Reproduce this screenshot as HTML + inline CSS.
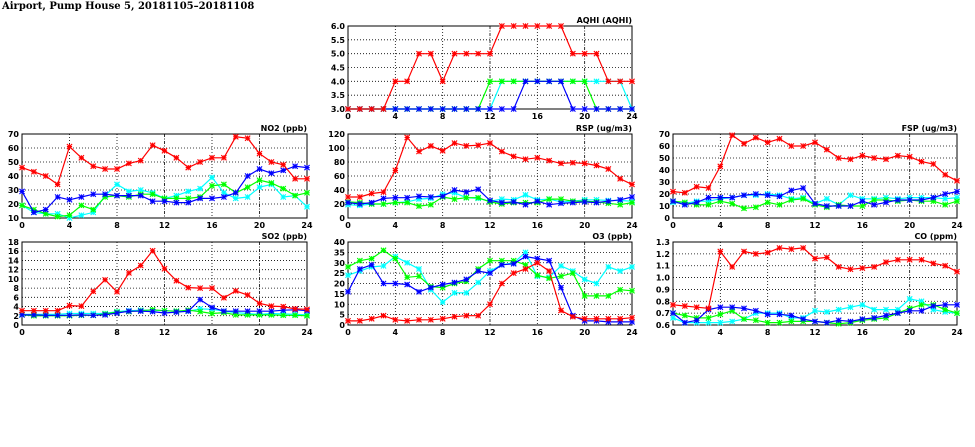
<!DOCTYPE html>
<html><head><meta charset="utf-8">
<style>
html,body{margin:0;padding:0;background:#fff;}
svg{display:block;font-family:"DejaVu Sans","Liberation Sans",sans-serif;}
</style></head>
<body>
<svg id="c" width="975" height="447" viewBox="0 0 975 447">
<text x="2" y="9" font-size="10" font-weight="bold" font-family="'DejaVu Serif','Liberation Serif',serif">Airport, Pump House 5, 20181105–20181108</text>
</svg>
<script>
const hours = [0,1,2,3,4,5,6,7,8,9,10,11,12,13,14,15,16,17,18,19,20,21,22,23,24];
const xTicks = [0,4,8,12,16,20,24];

const aqhiRed   = [3,3,3,3,4,4,5,5,4,5,5,5,5,6,6,6,6,6,6,5,5,5,4,4,4];
const aqhiGreen = [3,3,3,3,3,3,3,3,3,3,3,3,4,4,4,4,4,4,4,4,4,3,3,3,3];
const aqhiCyan  = [3,3,3,3,3,3,3,3,3,3,3,3,3,4,4,4,4,4,4,4,4,4,4,4,3];
const aqhiBlue  = [3,3,3,3,3,3,3,3,3,3,3,3,3,3,3,4,4,4,4,3,3,3,3,3,3];

const no2Red   = [46,43,40,34,61,53,47,45,45,49,51,62,58,53,46,50,53,53,68,67,56,50,48,38,38];
const no2Blue  = [29,14,16,25,23,25,27,27,26,26,26,22,22,21,21,24,24,25,28,40,45,42,44,47,46];
const no2Green = [19,16,13,11,12,19,16,25,26,25,27,27,24,24,24,25,33,34,28,32,37,35,31,26,28];
const no2Cyan  = [19,14,13,13,10,12,14,26,34,29,30,28,24,26,29,31,39,28,24,25,32,34,25,26,18];

const rspRed   = [30,30,35,37,68,115,95,103,96,107,103,104,107,95,88,84,86,82,78,79,78,75,70,56,48];
const rspBlue  = [22,20,22,28,29,29,31,30,31,40,37,41,25,22,23,19,24,19,21,22,23,22,24,26,30];
const rspGreen = [23,22,20,20,22,22,17,19,30,27,29,29,23,20,22,22,22,27,27,24,24,23,21,19,22];
const rspCyan  = [19,18,20,20,22,23,27,28,34,36,29,28,24,27,26,33,26,27,23,24,26,26,25,25,24];

const fspRed   = [22,21,26,25,43,69,62,67,63,66,60,60,63,57,50,49,52,50,49,52,51,47,45,36,31];
const fspBlue  = [14,11,13,17,17,17,19,20,19,18,23,25,12,10,10,10,14,11,13,15,15,15,17,20,22];
const fspGreen = [14,13,11,11,14,12,8,9,13,11,15,16,11,9,11,10,10,15,15,14,15,14,14,11,14];
const fspCyan  = [13,12,14,14,16,17,19,19,20,19,16,17,12,16,11,19,16,16,17,16,17,17,17,16,17];

const so2Red   = [3.1,3.1,3.1,3.1,4.2,4.1,7.3,9.8,7.2,11.3,12.9,16.1,12.2,9.6,8.1,8.0,8.0,5.9,7.4,6.5,4.7,4.1,4.0,3.5,3.4];
const so2Blue  = [2.2,2.2,2.1,2.1,2.1,2.2,2.1,2.2,2.6,3.0,3.0,2.9,2.6,2.8,3.0,5.5,3.8,3.0,3.0,3.0,3.0,3.0,3.2,3.3,3.1];
const so2Green = [2.2,2.0,2.0,2.0,2.0,2.1,2.1,2.4,2.8,2.9,3.1,3.3,3.1,3.0,3.2,2.9,2.5,2.7,2.2,2.2,2.2,2.2,2.1,2.1,2.0];
const so2Cyan  = [2.3,2.3,2.3,2.3,2.5,2.5,2.5,2.5,2.9,3.1,3.2,3.2,3.1,3.0,3.0,3.5,3.4,3.0,2.7,2.5,2.3,2.5,2.4,2.3,2.2];

const o3Red   = [2,2,3,4.5,2.5,2,2.5,2.5,3,4,4.5,4.5,10,20,25,27,30,26,7,4,3,3,3,3,3.5];
const o3Blue  = [16,27,29,20,20,19.5,16,18,19.5,20.5,22,26,25,29,29.5,33,32,31,18,4.5,2,2,1.5,1.5,1.5];
const o3Green = [28,31,32,36,32,23,23.5,18.5,18,20,21,27,31,31,31,29,24,22.5,23.5,25,14,14,14,17,16.5];
const o3Cyan  = [24,26,28,28.5,33,30,27,17,11,15.5,15.5,20.5,26,29,30,35,23.5,23,28.5,26,22,20,28,26,28];

const coRed   = [0.77,0.76,0.75,0.74,1.22,1.09,1.22,1.20,1.21,1.25,1.24,1.25,1.16,1.17,1.09,1.07,1.08,1.09,1.13,1.15,1.15,1.15,1.12,1.10,1.05];
const coBlue  = [0.70,0.62,0.64,0.73,0.75,0.75,0.74,0.72,0.69,0.69,0.68,0.65,0.63,0.62,0.64,0.63,0.65,0.66,0.68,0.70,0.72,0.72,0.76,0.77,0.77];
const coGreen = [0.70,0.68,0.66,0.66,0.69,0.72,0.65,0.64,0.62,0.62,0.63,0.63,0.63,0.62,0.61,0.62,0.64,0.65,0.66,0.70,0.74,0.77,0.77,0.73,0.70];
const coCyan  = [0.66,0.62,0.62,0.62,0.62,0.63,0.65,0.70,0.70,0.70,0.66,0.66,0.72,0.71,0.73,0.75,0.77,0.73,0.73,0.73,0.82,0.80,0.73,0.71,0.70];

const aqhiTicks = ["3.0","3.5","4.0","4.5","5.0","5.5","6.0"];
const no2Ticks = ["10","20","30","40","50","60","70"];
const rspTicks = ["0","20","40","60","80","100","120"];
const fspTicks = ["0","10","20","30","40","50","60","70"];
const so2Ticks = ["0","2","4","6","8","10","12","14","16","18"];
const o3Ticks = ["0","5","10","15","20","25","30","35","40"];
const coTicks = ["0.6","0.7","0.8","0.9","1.0","1.1","1.2","1.3"];

const NS = "http://www.w3.org/2000/svg";
const svg = document.getElementById('c');
function mk(tag, attrs, parent){
  const e = document.createElementNS(NS, tag);
  for (const k in attrs) e.setAttribute(k, attrs[k]);
  (parent||svg).appendChild(e);
  return e;
}

function panel(name, title, x0, y0, x1, y1, ticks, series){
  const g = mk('g', {});
  
  
  const ymin = parseFloat(ticks[0]), ymax = parseFloat(ticks[ticks.length-1]);
  const xs = h => x0 + (x1-x0)*h/24;
  const ys = v => y1 - (y1-y0)*(v-ymin)/(ymax-ymin);
  // grid
  ticks.forEach((t,i)=>{
    const y = ys(parseFloat(t));
    if (i>0 && i<ticks.length-1){
      const l = mk('line',{x1:x0,x2:x1,y1:y,y2:y,stroke:'#000','stroke-width':0.8,'stroke-dasharray':'1,2'},g);
      
      
    }
    const tx = mk('text',{x:x0-3,y:y+3,'font-size':8,'font-weight':'bold','text-anchor':'end'},g);
    
    
    tx.textContent = t;
  });
  xTicks.forEach((h,i)=>{
    const x = xs(h);
    if (i>0 && i<xTicks.length-1){
      const dash = (h===12||h===20) ? '3,1.5,1,1.5' : '1,2';
      const l = mk('line',{x1:x,x2:x,y1:y0,y2:y1,stroke:'#000','stroke-width':0.8,'stroke-dasharray':dash},g);
      
      
    }
    const tx = mk('text',{x:x,y:y1+10,'font-size':8,'font-weight':'bold','text-anchor':'middle'},g);
    
    
    tx.textContent = h;
  });
  const fr = mk('rect',{x:x0,y:y0,width:x1-x0,height:y1-y0,fill:'none',stroke:'#000','stroke-width':1},g);
  
  
  const tt = mk('text',{x:x1,y:y0-3,'font-size':8,'font-weight':'bold','text-anchor':'end'},g);
  
  
  tt.textContent = title;
  // series
  series.forEach(s=>{
    const sg = mk('g',{},g);
    
    
    const pts = s.data.map((v,i)=>xs(hours[i]).toFixed(1)+','+ys(v).toFixed(1)).join(' ');
    const pl = mk('polyline',{points:pts,fill:'none',stroke:s.color,'stroke-width':1.2},sg);
    
    
    s.data.forEach((v,i)=>{
      const cx = xs(hours[i]), cy = ys(v), r = 2.6;
      const p = mk('path',{d:`M${cx-r},${cy-r}L${cx+r},${cy+r}M${cx-r},${cy+r}L${cx+r},${cy-r}M${cx},${cy-r}L${cx},${cy+r}M${cx-r},${cy}L${cx+r},${cy}`,stroke:s.color,'stroke-width':1.1,fill:'none'},sg);
      
      
    });
  });
}
const C = {red:'#ff0000',green:'#00ff00',blue:'#0000ff',cyan:'#00ffff'};
function S(c,g,b,r){return [{label:'cyan',color:C.cyan,data:c},{label:'green',color:C.green,data:g},{label:'blue',color:C.blue,data:b},{label:'red',color:C.red,data:r}];}

panel('aqhi','AQHI (AQHI)',348,26,632,109,aqhiTicks,S(aqhiCyan,aqhiGreen,aqhiBlue,aqhiRed));
panel('no2','NO2 (ppb)',22,134,307,218,no2Ticks,S(no2Cyan,no2Green,no2Blue,no2Red));
panel('rsp','RSP (ug/m3)',348,134,632,218,rspTicks,S(rspCyan,rspGreen,rspBlue,rspRed));
panel('fsp','FSP (ug/m3)',673,134,957,218,fspTicks,S(fspCyan,fspGreen,fspBlue,fspRed));
panel('so2','SO2 (ppb)',22,242,307,325,so2Ticks,S(so2Cyan,so2Green,so2Blue,so2Red));
panel('o3','O3 (ppb)',348,242,632,325,o3Ticks,S(o3Cyan,o3Green,o3Blue,o3Red));
panel('co','CO (ppm)',673,242,957,325,coTicks,S(coCyan,coGreen,coBlue,coRed));
</script>
</body></html>
